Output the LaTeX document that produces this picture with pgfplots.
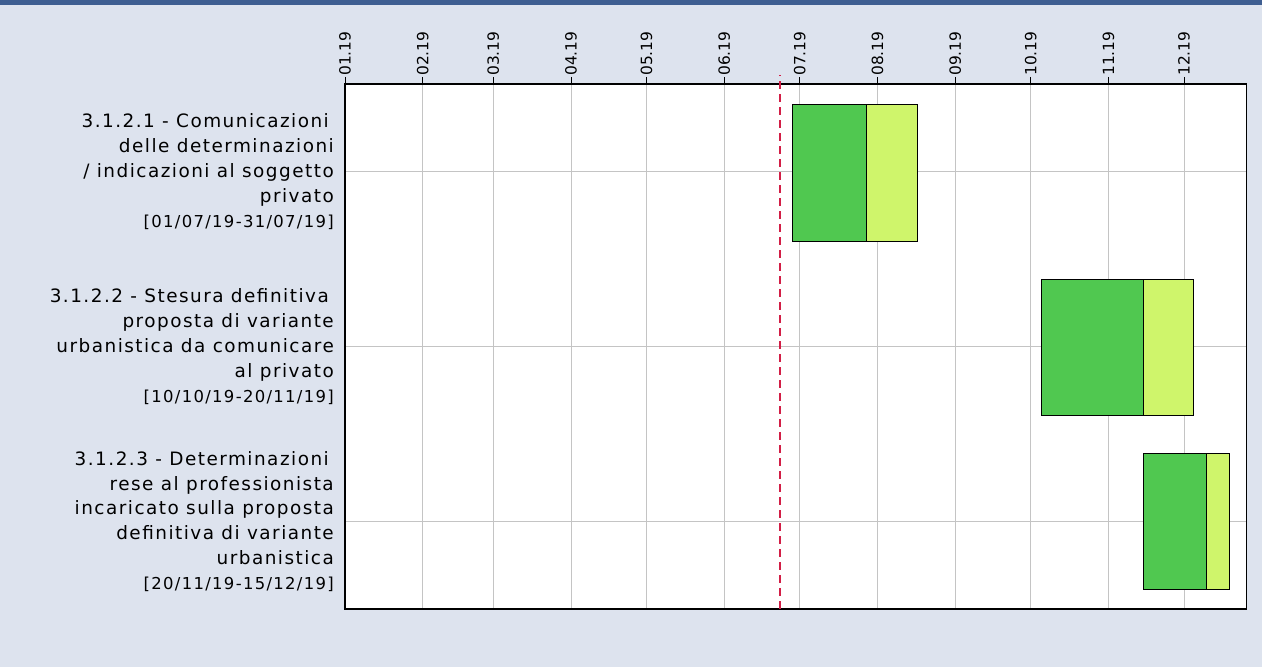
\documentclass[border=0pt]{standalone}
\usepackage{pgfplots}
\pgfplotsset{compat=1.18}
\usepackage{fontspec}
\setmainfont{DejaVu Sans}
\newfontfamily\lblfont[LetterSpace=8]{DejaVu Sans}
\newfontfamily\datefont[LetterSpace=8]{DejaVu Sans}
\newfontfamily\tickfont{DejaVu Sans}

\definecolor{panelbg}{HTML}{DDE3EE}
\definecolor{topbar}{HTML}{3E5E91}
\definecolor{donegreen}{HTML}{50C850}
\definecolor{restgreen}{HTML}{CFF56B}
\definecolor{todayred}{HTML}{D21E46}
\definecolor{gridgrey}{HTML}{C4C4C4}

% trailing gap used by the task labels, and the date line
\newcommand{\tsp}{\hspace*{5bp}}
\newcommand{\dates}[1]{{\datefont\fontsize{16.5}{25}\selectfont #1}}

\begin{document}
\begin{tikzpicture}[x=1bp,y=1bp]
\fill[panelbg] (0,0) rectangle (1262,667);
\fill[topbar] (0,662) rectangle (1262,667);
\useasboundingbox (0,0) rectangle (1262,667);
\begin{axis}[
  at={(345bp,58bp)}, anchor=south west,
  width=901.7bp, height=525bp, scale only axis,
  xmin=0, xmax=359, ymin=-0.5, ymax=2.5,
  axis background/.style={fill=white},
  % month starts, in days from 1 January 2019
  xtick={0,31,59,90,120,151,181,212,243,273,304,334},
  xticklabels={01.19,02.19,03.19,04.19,05.19,06.19,07.19,08.19,09.19,10.19,11.19,12.19},
  xtick pos=upper, xticklabel pos=upper,
  tick align=outside,
  major tick length=7bp,
  tick style={black, line width=0.8bp},
  ytick={0,1,2},
  ytick style={draw=none},
  yticklabels={
    {3.1.2.3 - Determinazioni\tsp\\rese al professionista\tsp\\incaricato sulla proposta\tsp\\definitiva di variante\tsp\\urbanistica\\\dates{[20/11/19-15/12/19]}},
    {3.1.2.2 - Stesura definitiva\tsp\\proposta di variante\tsp\\urbanistica da comunicare\tsp\\al privato\\\dates{[10/10/19-20/11/19]}},
    {3.1.2.1 - Comunicazioni\tsp\\delle determinazioni\tsp\\/ indicazioni al soggetto\tsp\\privato\\\dates{[01/07/19-31/07/19]}}
  },
  grid=major,
  grid style={gridgrey, line width=0.8bp},
  axis line style={black, line width=1.2bp},
  xticklabel style={rotate=90, anchor=west, font=\tickfont\fontsize{15.5}{19}\selectfont, inner sep=1bp},
  yticklabel style={align=right, anchor=east, font=\lblfont\fontsize{18.5}{25}\selectfont, inner sep=0pt, xshift=-4bp},
  clip=false,
]
% today marker
\addplot[draw=todayred, line width=2bp, /tikz/dash pattern={on 8bp off 5bp}, forget plot] coordinates {(173,-0.5) (173,2.55)};

% 3.1.2.1
\addplot[fill=donegreen, draw=black, line width=1bp] coordinates {(178.2,1.60) (207.8,1.60) (207.8,2.38) (178.2,2.38)} -- cycle;
\addplot[fill=restgreen, draw=black, line width=1bp] coordinates {(207.8,1.60) (227.8,1.60) (227.8,2.38) (207.8,2.38)} -- cycle;
% 3.1.2.2
\addplot[fill=donegreen, draw=black, line width=1bp] coordinates {(277.3,0.607) (317.9,0.607) (317.9,1.384) (277.3,1.384)} -- cycle;
\addplot[fill=restgreen, draw=black, line width=1bp] coordinates {(317.9,0.607) (337.9,0.607) (337.9,1.384) (317.9,1.384)} -- cycle;
% 3.1.2.3
\addplot[fill=donegreen, draw=black, line width=1bp] coordinates {(317.8,-0.387) (342.8,-0.387) (342.8,0.390) (317.8,0.390)} -- cycle;
\addplot[fill=restgreen, draw=black, line width=1bp] coordinates {(342.8,-0.387) (352.3,-0.387) (352.3,0.390) (342.8,0.390)} -- cycle;
\end{axis}
\end{tikzpicture}
\end{document}
